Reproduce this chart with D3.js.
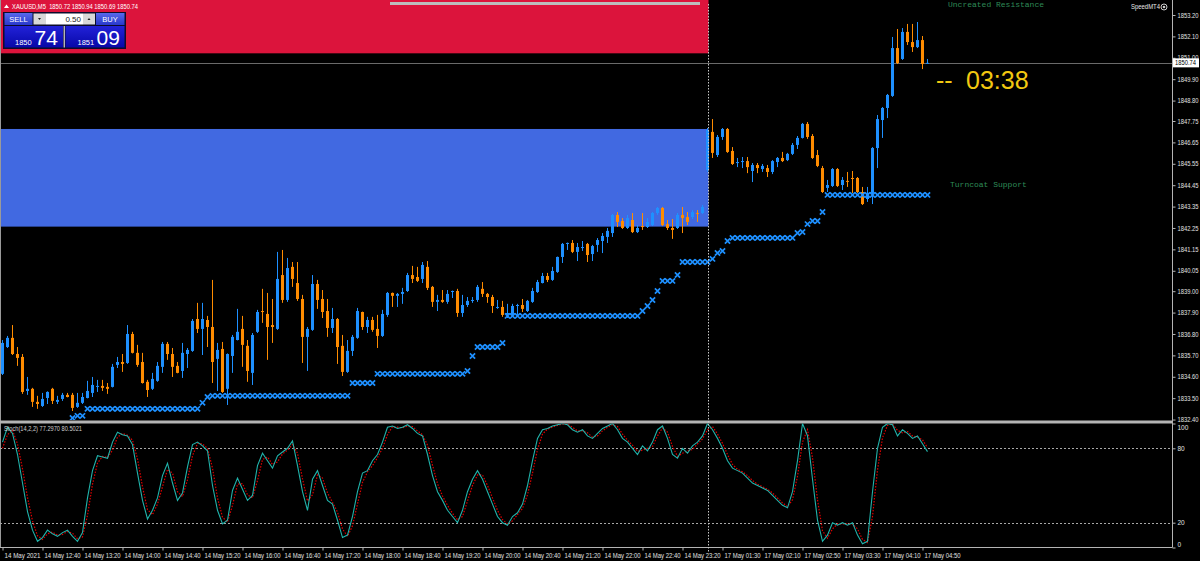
<!DOCTYPE html>
<html><head><meta charset="utf-8">
<script src="https://cdn.jsdelivr.net/npm/d3@7"></script>
<style>
html,body{margin:0;padding:0;background:#000;overflow:hidden}
svg{display:block}
text{font-family:"Liberation Sans",Arial,sans-serif}
</style></head><body>
<svg id="c" width="1200" height="561"></svg>
<script>
// ---------------- DATA ----------------
const symbolTitle = "XAUUSD,M5  1850.72 1850.94 1850.69 1850.74";
const opens = [1834.75,1836.13,1836.60,1835.77,1835.62,1833.87,1833.98,1833.31,1833.10,1833.51,
1833.98,1833.31,1833.46,1833.67,1833.67,1833.05,1833.26,1833.51,1833.77,1834.08,
1834.13,1834.08,1834.08,1835.21,1835.36,1835.31,1836.80,1835.83,1835.36,1834.34,
1833.98,1834.39,1835.11,1836.29,1835.77,1835.16,1834.90,1835.77,1835.93,1837.57,
1837.06,1837.52,1837.16,1835.52,1836.03,1833.98,1835.67,1836.49,1837.06,1836.19,
1834.80,1836.91,1837.98,1837.83,1837.26,1837.06,1839.83,1838.55,1840.25,1839.42,
1838.60,1836.65,1837.01,1839.37,1838.60,1837.98,1837.11,1837.57,1836.19,1834.85,
1835.93,1836.60,1837.93,1837.16,1837.52,1837.06,1836.70,1837.78,1838.91,1838.76,
1838.86,1839.01,1839.83,1839.73,1839.63,1840.25,1839.22,1838.45,1838.55,1838.45,
1838.96,1839.01,1837.88,1838.29,1838.50,1838.55,1839.12,1838.86,1838.70,1838.14,
1838.19,1837.78,1837.78,1838.24,1838.29,1837.98,1838.45,1838.96,1839.42,1839.78,
1839.58,1839.99,1840.76,1841.43,1841.48,1841.02,1841.22,1841.43,1840.91,1841.38,
1841.58,1841.79,1841.99,1842.92,1842.61,1842.25,1842.66,1842.04,1842.35,1842.30,
1842.40,1843.02,1843.28,1842.45,1842.25,1842.25,1842.92,1842.81,1842.81,1843.02,
1843.02,1845.23,1847.19,1846.00,1846.93,1847.34,1846.21,1845.59,1845.64,1845.69,
1845.18,1845.49,1845.28,1845.33,1845.13,1845.64,1845.85,1845.74,1846.06,1846.52,
1846.88,1847.60,1846.98,1846.00,1845.33,1844.31,1844.41,1845.28,1844.46,1844.67,
1844.82,1844.82,1844.10,1843.74,1844.05,1846.36,1847.80,1848.42,1849.04,1851.50,
1850.94,1852.33,1851.81,1851.55,1851.91,1850.72];
const highs = [1836.49,1836.70,1837.26,1836.13,1835.77,1834.59,1834.03,1833.62,1833.77,1833.85,
1834.03,1833.62,1833.77,1833.77,1833.77,1833.77,1833.77,1834.39,1834.59,1834.44,
1834.44,1834.28,1835.26,1835.62,1835.77,1837.26,1836.91,1836.24,1835.83,1834.44,
1834.80,1835.36,1836.39,1836.39,1836.08,1835.36,1836.34,1836.08,1837.57,1838.40,
1838.40,1837.73,1839.58,1836.34,1836.39,1835.80,1836.75,1838.09,1837.73,1836.49,
1836.85,1838.04,1839.12,1838.91,1838.60,1841.02,1841.12,1840.71,1840.50,1840.50,
1838.81,1837.16,1839.83,1839.58,1839.06,1838.60,1838.14,1837.62,1836.75,1836.49,
1836.75,1838.14,1837.95,1837.68,1837.68,1837.78,1838.04,1838.96,1838.93,1838.91,
1839.17,1839.94,1840.30,1840.25,1840.50,1840.55,1839.27,1838.81,1839.06,1839.06,
1839.03,1839.12,1838.81,1838.70,1838.70,1839.32,1839.47,1838.91,1838.81,1838.55,
1838.50,1838.35,1838.35,1838.35,1838.60,1838.55,1839.17,1839.58,1839.94,1839.94,
1840.25,1840.78,1841.48,1841.50,1841.63,1841.48,1841.58,1841.48,1841.38,1841.73,
1841.99,1842.25,1842.97,1843.07,1842.76,1842.92,1843.02,1842.40,1843.02,1842.76,
1843.07,1843.33,1843.33,1842.66,1842.71,1843.02,1843.33,1843.07,1843.17,1843.17,
1843.43,1847.39,1847.85,1847.03,1847.39,1847.39,1846.41,1845.85,1845.90,1845.90,
1845.59,1845.59,1845.54,1845.49,1845.74,1845.90,1846.16,1846.11,1846.62,1846.98,
1847.65,1847.70,1847.08,1846.26,1845.44,1844.72,1845.33,1845.33,1844.87,1845.13,
1845.18,1844.87,1844.36,1844.36,1846.41,1848.06,1848.47,1849.14,1852.07,1852.48,
1852.53,1852.74,1852.74,1852.84,1852.12,1850.94];
const lows = [1834.69,1836.08,1835.72,1835.16,1833.72,1833.67,1833.05,1832.95,1833.05,1833.20,
1833.20,1833.20,1833.36,1833.54,1832.84,1833.00,1833.20,1833.49,1833.56,1833.82,
1833.87,1833.72,1834.05,1835.05,1834.85,1835.26,1835.80,1835.11,1834.25,1833.56,
1833.92,1834.34,1834.80,1835.47,1834.59,1834.78,1834.54,1835.05,1835.88,1836.85,
1835.72,1836.13,1834.28,1833.87,1833.77,1833.15,1834.80,1836.47,1835.11,1834.34,
1834.18,1836.85,1837.37,1835.47,1836.34,1837.01,1838.40,1838.45,1839.22,1838.50,
1835.31,1834.90,1836.96,1838.09,1837.62,1836.65,1836.85,1835.26,1834.64,1834.80,
1835.67,1836.55,1837.01,1836.85,1836.91,1836.08,1836.65,1837.68,1838.19,1838.19,
1838.35,1838.96,1839.42,1839.47,1839.42,1839.06,1838.19,1837.98,1838.40,1838.35,
1838.65,1837.68,1837.68,1838.19,1838.40,1838.45,1838.70,1838.40,1837.88,1838.09,
1837.68,1837.62,1837.68,1837.78,1837.93,1837.93,1838.40,1838.91,1839.40,1839.47,
1839.53,1839.94,1840.45,1841.12,1840.96,1840.55,1841.07,1840.50,1840.55,1841.02,
1840.96,1841.48,1841.79,1842.30,1842.20,1842.20,1841.99,1841.99,1842.15,1842.25,
1842.35,1842.92,1842.35,1842.15,1841.69,1842.20,1841.99,1842.40,1842.71,1842.56,
1842.97,1845.13,1845.85,1845.90,1846.78,1846.11,1845.49,1845.38,1845.33,1845.07,
1844.61,1845.07,1845.13,1844.87,1845.02,1845.38,1845.64,1845.69,1846.00,1846.31,
1846.85,1846.83,1845.80,1845.38,1844.05,1844.10,1844.36,1844.36,1844.20,1844.36,
1844.05,1844.05,1843.43,1843.59,1843.48,1845.33,1846.88,1847.90,1848.99,1850.68,
1850.89,1851.66,1851.30,1851.50,1850.42,1850.69];
const closes = [1836.34,1836.60,1835.77,1835.57,1833.82,1833.98,1833.31,1833.20,1833.46,1833.82,
1833.36,1833.41,1833.67,1833.56,1833.00,1833.26,1833.56,1833.87,1834.18,1834.13,
1834.03,1833.98,1835.11,1835.36,1835.26,1836.80,1835.83,1835.21,1834.28,1833.92,
1834.49,1835.16,1836.29,1835.77,1835.11,1834.80,1835.83,1835.98,1837.47,1837.06,
1837.57,1837.16,1835.36,1835.98,1833.82,1835.77,1836.65,1836.91,1836.24,1834.90,
1836.75,1837.93,1837.93,1837.16,1837.16,1839.63,1838.55,1840.19,1839.63,1838.60,
1836.65,1837.06,1839.37,1838.55,1837.93,1837.11,1837.57,1836.13,1834.85,1835.93,
1836.65,1837.98,1837.16,1837.52,1837.01,1836.70,1837.83,1838.91,1838.76,1838.86,
1838.96,1839.83,1839.63,1839.53,1840.35,1839.17,1838.45,1838.55,1838.45,1838.86,
1839.01,1837.88,1838.29,1838.50,1838.55,1839.22,1838.86,1838.70,1838.24,1838.19,
1837.78,1837.88,1838.24,1838.29,1838.09,1838.50,1839.01,1839.47,1839.78,1839.58,
1840.04,1840.76,1841.43,1841.48,1841.02,1841.27,1841.27,1840.86,1841.32,1841.63,
1841.84,1842.10,1842.92,1842.56,1842.25,1842.76,1842.04,1842.25,1842.30,1842.56,
1843.02,1843.28,1842.40,1842.25,1842.15,1842.92,1842.76,1842.56,1843.07,1842.97,
1843.33,1847.29,1846.11,1846.93,1847.34,1846.16,1845.54,1845.64,1845.69,1845.38,
1845.49,1845.33,1845.44,1845.13,1845.69,1845.85,1845.69,1846.06,1846.52,1846.88,
1847.60,1846.93,1845.85,1845.44,1844.10,1844.46,1845.28,1844.41,1844.72,1844.62,
1844.77,1844.10,1843.48,1844.05,1846.36,1847.85,1848.42,1849.09,1851.50,1850.73,
1852.33,1851.81,1851.55,1851.91,1850.68,1850.74];

// trailing stop markers (blue crosses), one level per bar
const trailLevels = [null,null,null,null,null,null,null,null,null,null,null,null,null,null,
1832.48,1832.59,1832.59,
1832.95,1832.95,1832.95,1832.95,1832.95,1832.95,1832.95,1832.95,1832.95,1832.95,1832.95,1832.95,
1832.95,1832.95,1832.95,1832.95,1832.95,1832.95,1832.95,1832.95,1832.95,1832.95,1832.95,
1833.26,1833.56,
1833.62,1833.62,1833.62,1833.62,1833.62,1833.62,1833.62,1833.62,1833.62,1833.62,1833.62,1833.62,1833.62,1833.62,
1833.62,1833.62,1833.62,1833.62,1833.62,1833.62,1833.62,1833.62,1833.62,1833.62,1833.62,1833.62,1833.62,1833.62,
1834.28,1834.28,1834.28,1834.28,1834.28,
1834.75,1834.75,1834.75,1834.75,1834.75,1834.75,1834.75,1834.75,1834.75,1834.75,1834.75,1834.75,1834.75,1834.75,1834.75,1834.75,1834.75,1834.75,
1834.90,1835.67,
1836.13,1836.13,1836.13,1836.13,1836.13,
1836.34,
1837.73,1837.73,1837.73,1837.73,1837.73,1837.73,1837.73,1837.73,1837.73,1837.73,1837.73,1837.73,1837.73,1837.73,
1837.73,1837.73,1837.73,1837.73,1837.73,1837.73,1837.73,1837.73,1837.73,1837.73,1837.73,1837.73,1837.73,
1837.98,1838.24,1838.55,1839.01,
1839.53,1839.53,1839.53,
1839.83,
1840.50,1840.50,1840.50,1840.50,1840.50,1840.50,
1840.66,1840.96,1841.07,1841.58,
1841.74,1841.74,1841.74,1841.74,1841.74,1841.74,1841.74,1841.74,1841.74,1841.74,1841.74,1841.74,1841.74,
1841.99,1842.04,1842.45,1842.61,1842.61,1843.07,
1843.95,1843.95,1843.95,1843.95,1843.95,1843.95,1843.95,1843.95,1843.95,1843.95,1843.95,
1843.95,1843.95,1843.95,1843.95,1843.95,1843.95,1843.95,1843.95,1843.95,1843.95];

const stochMain = [85,97,92,75,52,29,14,5,8,14,11,9,12,14,9,5,12,40,62,74,
73,72,85,93,91,90,83,60,38,23,30,40,58,68,52,38,44,65,83,85,
82,78,50,30,19,22,46,56,47,38,42,66,76,70,64,74,77,80,86,66,
45,30,55,62,50,38,35,22,8,10,25,45,60,62,70,75,85,97,98,96,
97,99,96,92,90,75,58,45,38,30,25,20,30,45,55,62,55,45,35,25,
20,18,25,28,35,50,70,88,95,96,98,99,100,99,95,93,95,90,88,92,
96,98,100,95,88,85,80,75,82,78,85,95,98,88,75,72,80,76,82,85,
90,100,95,88,80,70,64,62,60,56,52,50,48,46,42,38,34,32,45,70,
100,90,55,22,5,10,20,18,20,18,20,10,3,5,45,80,97,100,99,90,
95,92,88,90,83.7,77.297];
const stochSignal = [80,91,94.5,83.5,63.5,40.5,21.5,9.5,6.5,11,12.5,10,10.5,13,11.5,7,8.5,26,51,68,
73.5,72.5,78.5,89,92,90.5,86.5,71.5,49,30.5,26.5,35,49,63,60,45,41,54.5,74,84,
83.5,80,64,40,24.5,20.5,34,51,51.5,42.5,40,54,71,73,67,69,75.5,78.5,83,76,
55.5,37.5,42.5,58.5,56,44,36.5,28.5,15,9,17.5,35,52.5,61,66,72.5,80,91,97.5,97,
96.5,98,97.5,94,91,82.5,66.5,51.5,41.5,34,27.5,22.5,25,37.5,50,58.5,58.5,50,40,30,
22.5,19,21.5,26.5,31.5,42.5,60,79,91.5,95.5,97,98.5,99.5,99.5,97,94,94,92.5,89,90,
94,97,99,97.5,91.5,86.5,82.5,77.5,78.5,80,81.5,90,96.5,93,81.5,73.5,76,78,79,83.5,
87.5,95,97.5,91.5,84,75,67,63,61,58,54,51,49,47,44,40,36,33,38.5,57.5,
85,95,72.5,38.5,13.5,7.5,15,19,19,19,19,15,6.5,4,25,62.5,88.5,98.5,99.5,94.5,
92.5,93.5,90,89,86.85,80.5021];

const priceTicks = [1853.20,1852.10,1851.00,1849.90,1848.80,1847.75,1846.65,1845.55,1844.45,1843.35,
1842.25,1841.15,1840.05,1839.00,1837.90,1836.80,1835.70,1834.60,1833.50,1832.40];
const stochTicks = [100,80,20,0];
const stochLevels = [80,20];
const timeTickIdx = [0,8,16,24,32,40,48,56,64,72,80,88,96,104,112,120,128,136,144,152,160,168,176,184];
const timeLabels = ["14 May 2021","14 May 12:40","14 May 13:20","14 May 14:00","14 May 14:40","14 May 15:20",
"14 May 16:00","14 May 16:40","14 May 17:20","14 May 18:00","14 May 18:40","14 May 19:20","14 May 20:00",
"14 May 20:40","14 May 21:20","14 May 22:00","14 May 22:40","14 May 23:20","17 May 01:30","17 May 02:10",
"17 May 02:50","17 May 03:30","17 May 04:10","17 May 04:50"];

// supply / demand zones
const zoneTops = [1856.00,1847.34];
const zoneBottoms = [1851.23,1842.32];
const zoneColors = ["#dc143c","#4169e1"];
const zoneEndIdx = 141;
const separatorIdx = 141;
const bidPrice = 1850.74;
const sellPrice = ["1850","74"], buyPrice = ["1851","09"], lotSize = "0.50";
const stochTitle = "Stoch(14,2,2) 77.2970 80.5021";

// ---------------- DRAW ----------------
const svg = d3.select("#c");
const AX = 1172.5;
const x = d3.scaleLinear().domain([0,185]).range([2.5,927.5]);
const y = d3.scaleLinear().domain([1832.40,1853.20]).range([419.56,15]);
const ys = d3.scaleLinear().domain([0,100]).range([547.5,423.5]);

svg.append("rect").attr("width",1200).attr("height",561).attr("fill","#000");
const defs = svg.append("defs");
defs.append("clipPath").attr("id","mainClip").append("rect").attr("x",0).attr("y",0).attr("width",1172).attr("height",420);
defs.append("clipPath").attr("id","stochClip").append("rect").attr("x",0).attr("y",423.5).attr("width",1172).attr("height",124);

const main = svg.append("g").attr("clip-path","url(#mainClip)");

// zones
main.selectAll("rect.zone").data(zoneTops).join("rect").attr("class","zone")
  .attr("x",0).attr("y",(d)=>y(d))
  .attr("width",x(zoneEndIdx)+1)
  .attr("height",(d,i)=>y(zoneBottoms[i])-y(d))
  .attr("fill",(d,i)=>zoneColors[i]);

// bid line
main.append("line").attr("x1",0).attr("x2",AX).attr("y1",Math.round(y(bidPrice))+0.5).attr("y2",Math.round(y(bidPrice))+0.5)
  .attr("stroke","#6a6a6a").attr("stroke-width",1);

// candles
const bull="#1e90ff", bear="#ff8c00";
const cg = main.append("g");
const idx = d3.range(opens.length);
cg.selectAll("line.wick").data(idx).join("line").attr("class","wick")
  .attr("x1",i=>x(i)).attr("x2",i=>x(i))
  .attr("y1",i=>y(highs[i])).attr("y2",i=>y(lows[i]))
  .attr("stroke",i=>closes[i]>=opens[i]?bull:bear).attr("stroke-width",1);
cg.selectAll("rect.body").data(idx).join("rect").attr("class","body")
  .attr("x",i=>x(i)-1.5).attr("width",3)
  .attr("y",i=>y(Math.max(opens[i],closes[i])))
  .attr("height",i=>Math.max(1,y(Math.min(opens[i],closes[i]))-y(Math.max(opens[i],closes[i]))))
  .attr("fill",i=>closes[i]>=opens[i]?bull:bear);

// trailing crosses
main.append("g").selectAll("path").data(idx.filter(i=>trailLevels[i]!=null)).join("path")
  .attr("transform",i=>`translate(${x(i)},${y(trailLevels[i])})`)
  .attr("d","M-2.6,-2.6L2.6,2.6M2.6,-2.6L-2.6,2.6")
  .attr("stroke","#1e90ff").attr("stroke-width",1.7).attr("fill","none");

// zone labels
main.append("text").attr("x",948).attr("y",6.5).text("Uncreated Resistance")
  .attr("fill","#2e8b57").attr("font-size",8).style("font-family","'Liberation Mono',monospace");
main.append("text").attr("x",950).attr("y",187).text("Turncoat Support")
  .attr("fill","#2e8b57").attr("font-size",8).style("font-family","'Liberation Mono',monospace");

// timer
main.append("text").attr("x",936).attr("y",89).text("--").attr("fill","#f2c811").attr("font-size",25);
main.append("text").attr("x",966).attr("y",89).text("03:38").attr("fill","#f2c811").attr("font-size",25);

// top scroll indicator
svg.append("rect").attr("x",390).attr("y",2).attr("width",310).attr("height",3).attr("fill","#bdbdbd");

// SpeedMT4
svg.append("text").attr("x",1131).attr("y",9).text("SpeedMT4").attr("fill","#e8e8e8").attr("font-size",6.5)
  .attr("textLength",29).attr("lengthAdjust","spacingAndGlyphs");
svg.append("circle").attr("cx",1164).attr("cy",7).attr("r",3).attr("fill","none").attr("stroke","#ccc").attr("stroke-width",1);
svg.append("circle").attr("cx",1164).attr("cy",7).attr("r",1.3).attr("fill","#ccc");

// title
svg.append("path").attr("d","M4,8L6.5,4.5L9,8Z").attr("fill","#fff");
svg.append("text").attr("x",12).attr("y",9).text(symbolTitle).attr("fill","#fff").attr("font-size",7)
  .attr("textLength",126).attr("lengthAdjust","spacingAndGlyphs").attr("xml:space","preserve");

// one-click trading panel
const grad = defs.append("linearGradient").attr("id","btnTop").attr("x1",0).attr("y1",0).attr("x2",0).attr("y2",1);
grad.append("stop").attr("offset","0").attr("stop-color","#5868ec");
grad.append("stop").attr("offset","1").attr("stop-color","#2838cc");
const grad2 = defs.append("linearGradient").attr("id","btnBig").attr("x1",0).attr("y1",0).attr("x2",0).attr("y2",1);
grad2.append("stop").attr("offset","0").attr("stop-color","#2222d8");
grad2.append("stop").attr("offset","1").attr("stop-color","#0808a8");
const pn = svg.append("g");
pn.append("rect").attr("x",3).attr("y",12).attr("width",123).attr("height",37).attr("fill","#0c0c2c");
pn.append("rect").attr("x",4.5).attr("y",13).attr("width",28).attr("height",12).attr("fill","url(#btnTop)");
pn.append("rect").attr("x",96).attr("y",13).attr("width",28.5).attr("height",12).attr("fill","url(#btnTop)");
pn.append("text").attr("x",18.5).attr("y",22).attr("text-anchor","middle").text("SELL").attr("fill","#fff").attr("font-size",7.5);
pn.append("text").attr("x",110).attr("y",22).attr("text-anchor","middle").text("BUY").attr("fill","#fff").attr("font-size",7.5);
pn.append("rect").attr("x",33.5).attr("y",13.5).attr("width",12.5).attr("height",11).attr("fill","#d8d8d8");
pn.append("rect").attr("x",46).attr("y",13.5).attr("width",37).attr("height",11).attr("fill","#fff");
pn.append("rect").attr("x",83).attr("y",13.5).attr("width",12).attr("height",11).attr("fill","#d8d8d8");
pn.append("path").attr("d","M38,18L41,18L39.5,20Z").attr("fill","#222");
pn.append("path").attr("d","M87.5,20L90.5,20L89,18Z").attr("fill","#222");
pn.append("text").attr("x",81).attr("y",22).attr("text-anchor","end").text(lotSize).attr("fill","#222").attr("font-size",8);
pn.append("rect").attr("x",4.5).attr("y",26).attr("width",58.5).attr("height",21.5).attr("fill","url(#btnBig)");
pn.append("rect").attr("x",65.5).attr("y",26).attr("width",59).attr("height",21.5).attr("fill","url(#btnBig)");
pn.append("line").attr("x1",64.2).attr("x2",64.2).attr("y1",26).attr("y2",47.5).attr("stroke","#fff").attr("stroke-width",1);
pn.append("text").attr("x",15).attr("y",45).text(sellPrice[0]).attr("fill","#fff").attr("font-size",7.5);
pn.append("text").attr("x",34.5).attr("y",45).text(sellPrice[1]).attr("fill","#fff").attr("font-size",21);
pn.append("text").attr("x",77.5).attr("y",45).text(buyPrice[0]).attr("fill","#fff").attr("font-size",7.5);
pn.append("text").attr("x",96.5).attr("y",45).text(buyPrice[1]).attr("fill","#fff").attr("font-size",21);

// borders / separators
svg.append("line").attr("x1",0.5).attr("x2",0.5).attr("y1",0).attr("y2",547.5).attr("stroke","#9a9a9a");
svg.append("rect").attr("x",0).attr("y",420.5).attr("width",AX).attr("height",3).attr("fill","#b4b4b4");
svg.append("line").attr("x1",0).attr("x2",AX).attr("y1",547.5).attr("y2",547.5).attr("stroke","#b4b4b4");
svg.append("line").attr("x1",AX).attr("x2",AX).attr("y1",0).attr("y2",547.5).attr("stroke","#b4b4b4");

// stochastic window
const st = svg.append("g").attr("clip-path","url(#stochClip)");
st.selectAll("line.lvl").data(stochLevels).join("line").attr("class","lvl")
  .attr("x1",0).attr("x2",AX).attr("y1",d=>Math.round(ys(d))+0.5).attr("y2",d=>Math.round(ys(d))+0.5)
  .attr("stroke","#a8a8a8").attr("stroke-dasharray","2,2");
st.append("path").datum(stochSignal).attr("fill","none").attr("stroke","#e00000").attr("stroke-width",1.2)
  .attr("stroke-dasharray","1.5,1.5")
  .attr("d",d3.line().x((d,i)=>x(i)).y(d=>ys(d)));
st.append("path").datum(stochMain).attr("fill","none").attr("stroke","#20b2aa").attr("stroke-width",1.1)
  .attr("d",d3.line().x((d,i)=>x(i)).y(d=>ys(d)));
svg.append("text").attr("x",4).attr("y",431).text(stochTitle).attr("fill","#d0d0d0").attr("font-size",6.5)
  .attr("textLength",78).attr("lengthAdjust","spacingAndGlyphs");

// separator (period) line
svg.append("line").attr("x1",x(separatorIdx)+1).attr("x2",x(separatorIdx)+1).attr("y1",4).attr("y2",553)
  .attr("stroke","#c8c8c8").attr("stroke-dasharray","1.5,1.5");

// price axis
const pa = svg.append("g").attr("transform",`translate(${AX},0)`)
  .call(d3.axisRight(y).tickValues(priceTicks).tickSize(3).tickPadding(2).tickFormat(d3.format(".2f")));
pa.select(".domain").remove();
pa.selectAll(".tick line").attr("stroke","#b4b4b4");
pa.selectAll(".tick text").attr("fill","#e0e0e0").attr("font-size",6.5).style("font-family","'Liberation Sans',Arial")
  .attr("textLength",21).attr("lengthAdjust","spacingAndGlyphs");

// bid label
const by = y(bidPrice);
svg.append("rect").attr("x",AX+0.5).attr("y",by-4.5).attr("width",26).attr("height",9).attr("fill","#fff");
svg.append("text").attr("x",AX+2.5).attr("y",by+2.5).text(bidPrice.toFixed(2)).attr("fill","#000").attr("font-size",6.5)
  .attr("textLength",21).attr("lengthAdjust","spacingAndGlyphs");

// stoch axis
const sa = svg.append("g").attr("transform",`translate(${AX},0)`)
  .call(d3.axisRight(ys).tickValues(stochTicks).tickSize(3).tickPadding(2).tickFormat(d3.format("d")));
sa.select(".domain").remove();
sa.selectAll(".tick line").attr("stroke","#b4b4b4");
sa.selectAll(".tick text").attr("fill","#e0e0e0").attr("font-size",6.5).style("font-family","'Liberation Sans',Arial")
  .attr("dy",d=>d===100?"0.85em":(d===0?"-0.2em":"0.32em"));

// time axis
const ta = svg.append("g").attr("transform","translate(0,547.5)")
  .call(d3.axisBottom(x).tickValues(timeTickIdx).tickSize(3).tickFormat((d,i)=>timeLabels[i]));
ta.select(".domain").remove();
ta.selectAll(".tick line").attr("stroke","#b4b4b4");
ta.selectAll(".tick text").attr("fill","#e0e0e0").attr("font-size",6.5).attr("text-anchor","start")
  .attr("x",1.5).attr("y",5.5).style("font-family","'Liberation Sans',Arial")
  .attr("textLength",36).attr("lengthAdjust","spacingAndGlyphs");
</script>
</body></html>
